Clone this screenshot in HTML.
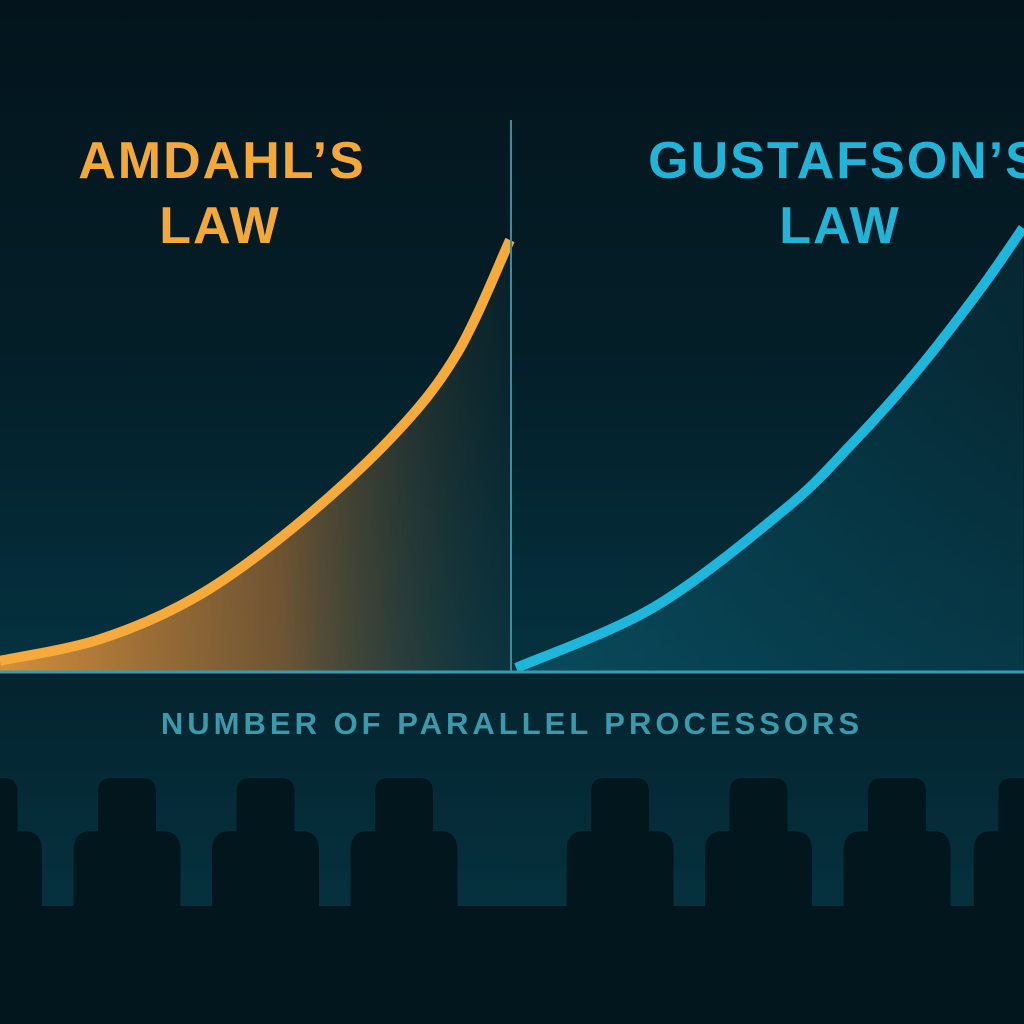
<!DOCTYPE html>
<html><head><meta charset="utf-8"><style>
html,body{margin:0;padding:0;background:#03161e;}
svg{display:block}
text{font-family:"Liberation Sans",sans-serif;font-weight:bold}
</style></head><body>
<svg id="chart" width="1024" height="1024" viewBox="0 0 1024 1024">
<defs>
<linearGradient id="bg" x1="0" y1="0" x2="0" y2="1">
<stop offset="0" stop-color="#03141c"/><stop offset="0.55" stop-color="#041f29"/><stop offset="1" stop-color="#053240"/>
</linearGradient>
<linearGradient id="band" x1="0" y1="0" x2="0" y2="1">
<stop offset="0" stop-color="#04242f"/><stop offset="1" stop-color="#05313e"/>
</linearGradient>
<linearGradient id="orangeFill" x1="0" y1="0" x2="1" y2="0">
<stop offset="0" stop-color="#e0953a" stop-opacity="0.95"/><stop offset="0.55" stop-color="#9c6530" stop-opacity="0.7"/><stop offset="1" stop-color="#1d3a3a" stop-opacity="0.2"/>
</linearGradient>
<linearGradient id="cyanFill" x1="0" y1="0" x2="1" y2="0">
<stop offset="0" stop-color="#0c6a80" stop-opacity="0.45"/><stop offset="1" stop-color="#0b4b5c" stop-opacity="0.25"/>
</linearGradient>
</defs>
<rect x="0" y="0" width="1024" height="672" fill="url(#bg)"/>
<rect x="0" y="672" width="1024" height="240" fill="url(#band)"/>
<rect x="0" y="906" width="1024" height="118" fill="#02161e"/>
<g id="marks"></g>
<line x1="511" y1="120" x2="511" y2="672" stroke="#3c8c9c" stroke-width="2"/>
<line x1="0" y1="672" x2="1024" y2="672" stroke="#3a9bb0" stroke-width="3"/>
<text x="222" y="178" font-size="52" fill="#f5a83a" text-anchor="middle" letter-spacing="2">AMDAHL’S</text>
<text x="220" y="243" font-size="52" fill="#f5a83a" text-anchor="middle" letter-spacing="2">LAW</text>
<text x="845" y="178" font-size="52" fill="#22b3d6" text-anchor="middle" letter-spacing="2">GUSTAFSON’S</text>
<text x="840" y="243" font-size="52" fill="#22b3d6" text-anchor="middle" letter-spacing="2">LAW</text>
<text x="512" y="734" font-size="31" fill="#3a9aab" text-anchor="middle" letter-spacing="4">NUMBER OF PARALLEL PROCESSORS</text>
<g id="people" fill="#02161e"></g>
</svg>
<script>
// processor counts (per panel) and speedup values
const amdahlX = [0, 19.6, 38.4, 57.5, 76.7, 89.4, 99.8];
const amdahlY = [2.5, 7.3, 16.7, 32.2, 52.2, 70.7, 96];
const gustafsonX = [1.2, 28, 53.3, 66.1, 78.8, 91.4, 99.8];
const gustafsonY = [0.9, 14.4, 36, 50.2, 66.4, 84.9, 98.7];
const processorSlots = [-1, 0, 1, 2, 3.56, 4.56, 5.56, 6.5];

const NS = "http://www.w3.org/2000/svg";
const yScale = v => 672 - v * 4.5;
const xLeft = p => p / 100 * 511;
const xRight = p => 510 + p / 100 * 514;
const marks = document.getElementById('marks');

function smoothPath(pts){
  let d = `M${pts[0][0]},${pts[0][1]}`;
  for (let i=0;i<pts.length-1;i++){
    const p0=pts[Math.max(i-1,0)],p1=pts[i],p2=pts[i+1],p3=pts[Math.min(i+2,pts.length-1)];
    const c1=[p1[0]+(p2[0]-p0[0])/6,p1[1]+(p2[1]-p0[1])/6];
    const c2=[p2[0]-(p3[0]-p1[0])/6,p2[1]-(p3[1]-p1[1])/6];
    d+=` C${c1[0]},${c1[1]} ${c2[0]},${c2[1]} ${p2[0]},${p2[1]}`;
  }
  return d;
}
function series(xs, ys, xf, fill, stroke, name){
  const pts = xs.map((x,i)=>[xf(x), yScale(ys[i])]);
  const line = smoothPath(pts);
  const area = document.createElementNS(NS,'path');
  area.setAttribute('d', line + ` L${pts[pts.length-1][0]},672 L${pts[0][0]},672 Z`);
  area.setAttribute('fill', fill);
  
  
  marks.appendChild(area);
  const p = document.createElementNS(NS,'path');
  p.setAttribute('d', line);
  p.setAttribute('fill','none');
  p.setAttribute('stroke', stroke);
  p.setAttribute('stroke-width','10');
  
  
  marks.appendChild(p);
}
series(amdahlX, amdahlY, xLeft, 'url(#orangeFill)', '#f6aa3c', 'amdahl');
series(gustafsonX, gustafsonY, xRight, 'url(#cyanFill)', '#1fb6dc', 'gustafson');

const people = document.getElementById('people');
processorSlots.forEach(s=>{
  const cx = 127 + s * 138.5;
  const g = document.createElementNS(NS,'path');
  const hw=29, bw=53.5, top=778, sh=831, base=908;
  g.setAttribute('d',
    `M${cx-hw},${sh} L${cx-hw},${top+14} Q${cx-hw},${top} ${cx-hw+14},${top} L${cx+hw-14},${top} Q${cx+hw},${top} ${cx+hw},${top+14} L${cx+hw},${sh}` +
    ` L${cx+bw-18},${sh} Q${cx+bw},${sh} ${cx+bw},${sh+20} L${cx+bw},${base} L${cx-bw},${base} L${cx-bw},${sh+20} Q${cx-bw},${sh} ${cx-bw+18},${sh} Z`);
  
  
  people.appendChild(g);
});
</script>
</body></html>
